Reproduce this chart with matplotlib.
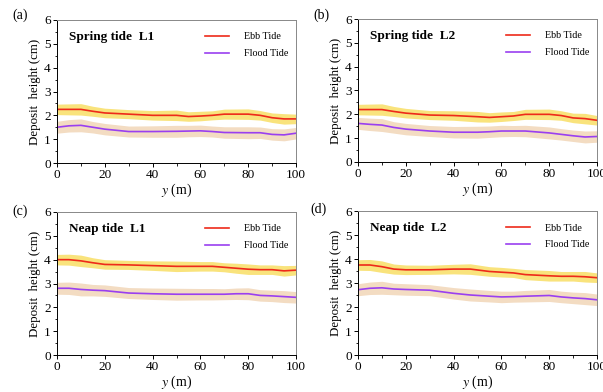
import matplotlib
matplotlib.use("Agg")
import matplotlib.pyplot as plt
from matplotlib.ticker import MultipleLocator

plt.rcParams["font.family"] = ["Liberation Serif", "DejaVu Serif"]
plt.rcParams["mathtext.fontset"] = "stix"

# distance along section (m)
y_sl1 = [0, 5, 10, 15, 20, 30, 40, 50, 55, 60, 65, 70, 80, 85, 90, 95, 100]
ebb_sl1 = [2.25, 2.25, 2.25, 2.17, 2.1, 2.05, 2.0, 2.0, 1.95, 1.97, 2.0, 2.05, 2.05, 2.0, 1.9, 1.85, 1.85]
flood_sl1 = [1.5, 1.56, 1.58, 1.5, 1.42, 1.32, 1.32, 1.33, 1.34, 1.35, 1.32, 1.28, 1.27, 1.27, 1.2, 1.18, 1.25]

y_sl2 = [0, 5, 10, 15, 20, 30, 40, 50, 55, 60, 65, 70, 80, 85, 90, 95, 100]
ebb_sl2 = [2.2, 2.2, 2.2, 2.12, 2.05, 1.97, 1.95, 1.9, 1.87, 1.9, 1.93, 2.0, 2.0, 1.95, 1.85, 1.82, 1.75]
flood_sl2 = [1.62, 1.58, 1.55, 1.45, 1.38, 1.3, 1.25, 1.25, 1.27, 1.3, 1.3, 1.3, 1.22, 1.16, 1.1, 1.05, 1.07]

y_nl1 = [0, 5, 10, 15, 20, 30, 40, 50, 60, 65, 70, 75, 80, 85, 90, 95, 100]
ebb_nl1 = [4.0, 4.0, 3.95, 3.87, 3.8, 3.78, 3.75, 3.72, 3.72, 3.72, 3.68, 3.64, 3.6, 3.58, 3.58, 3.53, 3.56]
flood_nl1 = [2.8, 2.8, 2.75, 2.72, 2.7, 2.6, 2.57, 2.55, 2.55, 2.55, 2.55, 2.57, 2.57, 2.5, 2.48, 2.45, 2.42]

y_nl2 = [0, 5, 10, 15, 20, 30, 40, 47, 55, 60, 65, 70, 80, 85, 90, 95, 100]
ebb_nl2 = [3.75, 3.75, 3.68, 3.58, 3.55, 3.55, 3.58, 3.58, 3.48, 3.45, 3.42, 3.35, 3.3, 3.28, 3.28, 3.26, 3.22]
flood_nl2 = [2.72, 2.78, 2.8, 2.75, 2.73, 2.7, 2.57, 2.5, 2.45, 2.42, 2.43, 2.45, 2.48, 2.42, 2.38, 2.35, 2.3]

# half-width of shaded spread (cm)
spread_ebb = [0.22, 0.23, 0.24, 0.21, 0.2, 0.19, 0.2, 0.22, 0.2, 0.2, 0.19, 0.21, 0.22, 0.2, 0.2, 0.22, 0.2]
spread_flood = [0.25, 0.26, 0.27, 0.24, 0.24, 0.23, 0.24, 0.25, 0.24, 0.24, 0.23, 0.24, 0.25, 0.24, 0.24, 0.25, 0.24]

panels = [
    ("(a)", "Spring tide  L1", y_sl1, ebb_sl1, flood_sl1),
    ("(b)", "Spring tide  L2", y_sl2, ebb_sl2, flood_sl2),
    ("(c)", "Neap tide  L1", y_nl1, ebb_nl1, flood_nl1),
    ("(d)", "Neap tide  L2", y_nl2, ebb_nl2, flood_nl2),
]

fig = plt.figure(figsize=(6.03, 3.92), dpi=100)
W, H = 603, 392
boxes = [(57, 20, 296, 163), (358, 19, 597, 162), (57, 212, 296, 355), (358, 211, 597, 355)]
tag_pos = [(12, 15), (313, 15), (12, 211), (310, 209)]

for (tag, title, y, ebb, flood), (x0, y0, x1, y1), (tx, ty) in zip(panels, boxes, tag_pos):
    ax = fig.add_axes([x0 / W, 1 - y1 / H, (x1 - x0) / W, (y1 - y0) / H])
    lo_e = [v - s for v, s in zip(ebb, spread_ebb)]
    hi_e = [v + s for v, s in zip(ebb, spread_ebb)]
    lo_f = [v - s for v, s in zip(flood, spread_flood)]
    hi_f = [v + s for v, s in zip(flood, spread_flood)]
    ax.fill_between(y, lo_f, hi_f, color="#f3dcc2", lw=0)
    ax.fill_between(y, lo_e, hi_e, color="#f9e37c", lw=0)
    ax.plot(y, ebb, color="#ee2a1a", lw=1.2, label="Ebb Tide")
    ax.plot(y, flood, color="#9a3ff0", lw=1.2, label="Flood Tide")
    ax.set_xlim(0, 100)
    ax.set_ylim(0, 6)
    ax.xaxis.set_major_locator(MultipleLocator(20))
    ax.xaxis.set_minor_locator(MultipleLocator(10))
    ax.yaxis.set_major_locator(MultipleLocator(1))
    ax.yaxis.set_minor_locator(MultipleLocator(0.5))
    ax.tick_params(which="major", length=3, width=0.7, labelsize=9.5, pad=1.5)
    ax.tick_params(which="minor", length=1.8, width=0.6)
    for sp in ax.spines.values():
        sp.set_linewidth(0.7)
    for sp in ("top", "right"):
        ax.spines[sp].set_color("#888888")
    ax.set_ylabel("Deposit  height (cm)", fontsize=9.3, labelpad=2)
    ax.set_xlabel("$\\mathit{y}$ (m)", fontsize=10, labelpad=0)
    ax.text(0.05, 0.86, title, transform=ax.transAxes, fontsize=9.5, fontweight="bold")
    ax.legend(loc="upper right", fontsize=7.3, frameon=False, handlelength=2.4,
              handletextpad=1.4, borderaxespad=0.4, labelspacing=0.75,
              bbox_to_anchor=(1.0, 0.97))
    fig.text(tx / W, 1 - ty / H, tag, fontsize=10, ha="left", va="center")

fig.savefig("out.png", dpi=100)
